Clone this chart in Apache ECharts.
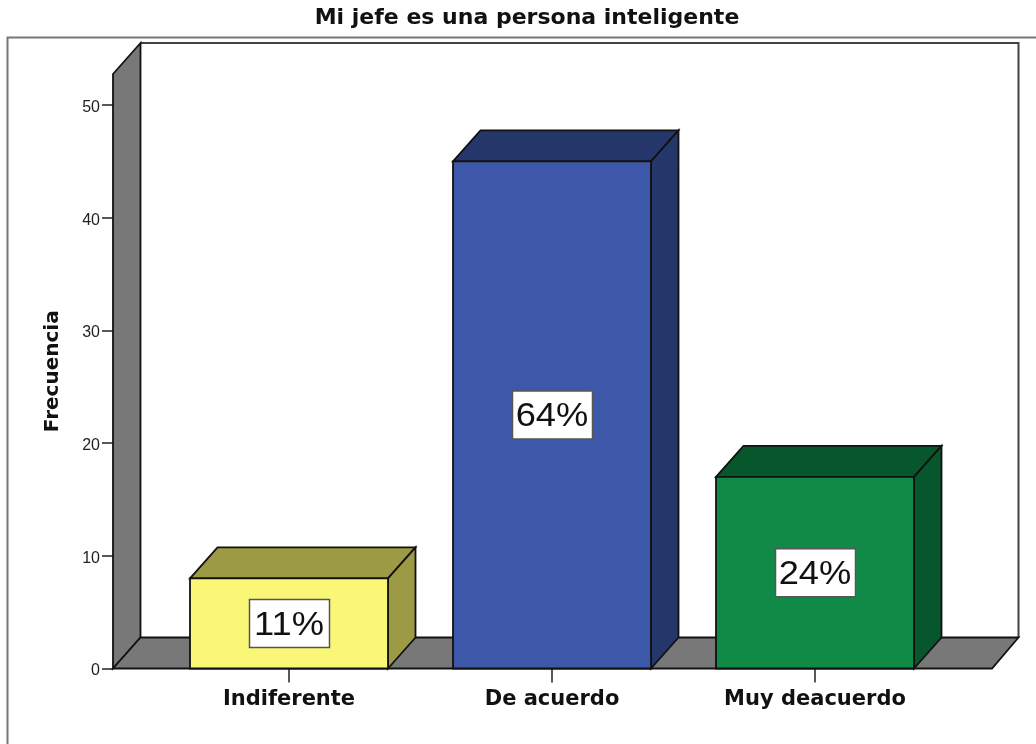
<!DOCTYPE html>
<html><head><meta charset="utf-8">
<style>html,body{margin:0;padding:0;background:#fff}#c{width:1036px;height:744px}</style>
<script src="https://cdn.jsdelivr.net/npm/echarts@6/dist/echarts.min.js"></script></head>
<body><div id="c"></div>
<script>
const titleText = 'Mi jefe es una persona inteligente';
const yName = 'Frecuencia';
const categories = ['Indiferente', 'De acuerdo', 'Muy deacuerdo'];
const values = [8, 45, 17];
const percentLabels = ['11%', '64%', '24%'];
const frontColors = ['#FBF776', '#3E58A9', '#108B47'];
const sideColors = ['#9C9A45', '#25366A', '#08562B'];
const yTicks = [0, 10, 20, 30, 40, 50];
const yMax = 52.75;

const DX = 27.5, DXR = 26.5, DY = -31, BAR_W = 198, EXT_L = 44.5, EXT_R = 45.5;
const LINE = '#111';
const poly = (points, fill, lw) => ({type: 'polygon', shape: {points}, style: {fill, stroke: LINE, lineWidth: lw || 1.8}});

function renderWalls(params, api) {
  const cs = params.coordSys;
  const l = cs.x - EXT_L, r = cs.x + cs.width + EXT_R, t = cs.y, b = cs.y + cs.height;
  return {type: 'group', children: [
    {type: 'polyline', shape: {points: [[l + DX, t + DY], [r + DXR, t + DY], [r + DXR, b + DY]]},
      style: {fill: 'none', stroke: '#444', lineWidth: 2}},
    poly([[l, t], [l + DX, t + DY], [l + DX, b + DY], [l, b]], '#787878'),
    poly([[l, b], [l + DX, b + DY], [r + DXR, b + DY], [r, b]], '#787878')
  ]};
}
function renderBar(params, api) {
  const i = api.value(0);
  const top = api.coord([i, api.value(1)]);
  const base = api.coord([i, 0]);
  const l = top[0] - BAR_W / 2, r = top[0] + BAR_W / 2, t = top[1], b = base[1];
  const my = (t + b) / 2;
  return {type: 'group', children: [
    poly([[l, t], [l + DX, t + DY], [r + DX, t + DY], [r, t]], sideColors[i]),
    poly([[r, t], [r + DX, t + DY], [r + DX, b + DY], [r, b]], sideColors[i]),
    poly([[l, t], [r, t], [r, b], [l, b]], frontColors[i]),
    {type: 'rect', shape: {x: top[0] - 39.5, y: my - 24, width: 80, height: 48},
      style: {fill: '#fff', stroke: '#555', lineWidth: 1.5}},
    {type: 'text', x: top[0], y: my + 2, scaleX: 1.1, style: {text: percentLabels[i], fill: '#111', align: 'center', verticalAlign: 'middle',
      fontFamily: 'Liberation Sans', fontSize: 33}}
  ]};
}
const chart = echarts.init(document.getElementById('c'), null, {renderer: 'canvas'});
chart.setOption({
  animation: false,
  backgroundColor: '#fff',
  title: {text: titleText, left: 522, top: 2, textAlign: 'center',
    textStyle: {fontFamily: 'DejaVu Sans', fontWeight: 'bold', fontSize: 22, color: '#111'}},
  grid: {left: 157.5, width: 789, top: 74, height: 594.5},
  xAxis: {type: 'category', data: categories,
    axisLine: {show: false},
    axisTick: {show: true, alignWithLabel: true, length: 14, lineStyle: {color: '#222', width: 1.5}},
    axisLabel: {margin: 21, interval: 0, fontFamily: 'DejaVu Sans', fontWeight: 'bold', fontSize: 21, color: '#111'}},
  yAxis: {type: 'value', min: 0, max: yMax, offset: 44.5, splitLine: {show: false},
    name: yName, nameLocation: 'middle', nameGap: 50, nameRotate: 90,
    nameTextStyle: {fontFamily: 'DejaVu Sans', fontWeight: 'bold', fontSize: 20, color: '#111'},
    axisLine: {show: false},
    axisTick: {show: true, length: 11, customValues: yTicks, lineStyle: {color: '#222', width: 1.5}},
    axisLabel: {margin: 13, customValues: yTicks, formatter: '{t|{value}}',
      rich: {t: {padding: [5, 0, 0, 0], fontFamily: 'Liberation Sans', fontSize: 16, color: '#222'}}}},
  graphic: [{type: 'polyline', silent: true, z: -1, shape: {points: [[7.5, 744], [7.5, 37.5], [1036, 37.5]]},
    style: {fill: 'none', stroke: '#777', lineWidth: 2}}],
  series: [
    {type: 'custom', coordinateSystem: 'cartesian2d', z: 1, silent: true, clip: false, renderItem: renderWalls, data: [[0, 0]]},
    {type: 'custom', coordinateSystem: 'cartesian2d', z: 2, silent: true, clip: false, renderItem: renderBar,
      encode: {x: 0, y: 1}, data: values.map((v, i) => [i, v])}
  ]
});
</script></body></html>
